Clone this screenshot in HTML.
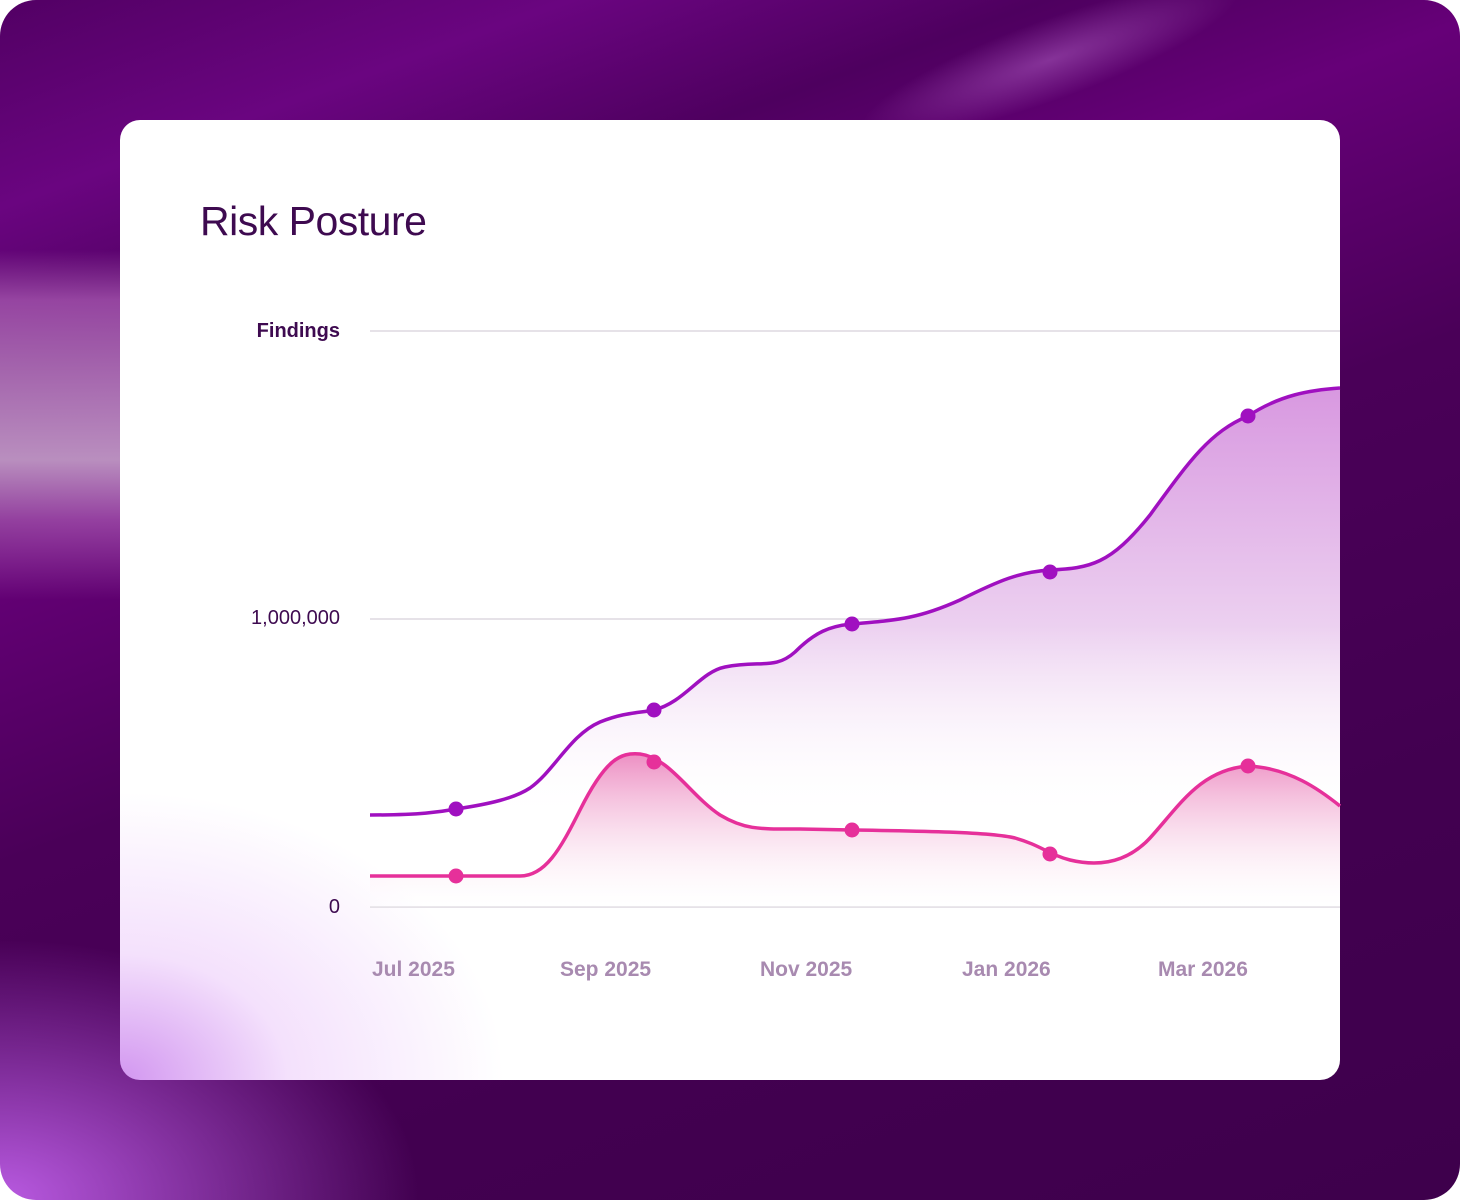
<!DOCTYPE html>
<html><head><meta charset="utf-8"><style>
html,body{margin:0;padding:0}
body{width:1460px;height:1200px;overflow:hidden;position:relative;font-family:"Liberation Sans",sans-serif;background:#fff}
.bg{position:absolute;inset:0;border-radius:36px;overflow:hidden;
background:
radial-gradient(ellipse 420px 260px at 0px 1200px,rgba(185,90,225,1),rgba(185,90,225,0) 100%),
linear-gradient(160deg,#520064 0%,#6a0580 12%,#4e005f 22%,#660078 32%,#4a0058 50%,#420050 75%,#3e004c 100%)}
.band{position:absolute;left:0;top:0;width:130px;height:1200px;border-radius:36px 0 0 36px;
background:linear-gradient(180deg,rgba(0,0,0,0) 250px,rgba(160,80,170,.85) 300px,rgba(190,150,195,.95) 460px,rgba(160,80,170,.8) 520px,rgba(0,0,0,0) 600px)}
.streak{position:absolute;left:700px;top:-60px;width:700px;height:240px;background:radial-gradient(ellipse 200px 40px at 50% 50%,rgba(180,100,200,.5),rgba(180,100,200,0));transform:rotate(-20deg)}
.card{position:absolute;left:120px;top:120px;width:1220px;height:960px;border-radius:20px;overflow:hidden;
background:
radial-gradient(ellipse 480px 360px at 0px 960px,rgba(210,150,240,1) 0%,rgba(235,200,250,.55) 35%,rgba(255,255,255,0) 80%),#fff}
.title{position:absolute;left:200px;top:198px;font-size:41px;color:#3e0a50;letter-spacing:-0.5px}
.yl{position:absolute;right:1120px;font-size:20px;color:#3e0a50;font-weight:bold}
.xl{position:absolute;top:958px;font-size:21px;color:#a88ab0;font-weight:bold}
</style></head><body>
<div class="bg"></div><div class="band"></div><div class="streak"></div>
<div class="card"></div>
<div class="title">Risk Posture</div>
<div class="yl" style="top:320px">Findings</div>
<div class="yl" style="top:607px;font-weight:normal">1,000,000</div>
<div class="yl" style="top:896px;font-weight:normal">0</div>
<div class="xl" style="left:372px">Jul 2025</div>
<div class="xl" style="left:560px">Sep 2025</div>
<div class="xl" style="left:760px">Nov 2025</div>
<div class="xl" style="left:962px">Jan 2026</div>
<div class="xl" style="left:1158px">Mar 2026</div>
<svg width="1460" height="1200" style="position:absolute;left:0;top:0">
<defs>
<linearGradient id="gp" x1="0" y1="388" x2="0" y2="820" gradientUnits="userSpaceOnUse"><stop offset="0" stop-color="#d898e0"/><stop offset=".55" stop-color="#ecd0f0"/><stop offset="1" stop-color="#ffffff" stop-opacity="0"/></linearGradient>
<linearGradient id="gk" x1="0" y1="750" x2="0" y2="905" gradientUnits="userSpaceOnUse"><stop offset="0" stop-color="#ec8ac0"/><stop offset="1" stop-color="#ffffff" stop-opacity=".2"/></linearGradient>
</defs>
<line x1="370" y1="331" x2="1340" y2="331" stroke="#e6e2e8" stroke-width="2"/>
<line x1="370" y1="619" x2="1340" y2="619" stroke="#e6e2e8" stroke-width="2"/>
<line x1="370" y1="907" x2="1340" y2="907" stroke="#e6e2e8" stroke-width="2"/>
<path d="M370 815 C420 815 440 812 456 809 C490 804 515 798 530 788 C555 770 570 735 600 722 C625 712 640 713 654 710 C685 702 700 672 725 667 C760 660 775 670 795 652 C815 632 830 626 852 624 C900 620 920 618 960 600 C1000 580 1020 572 1050 570 C1090 568 1110 565 1150 515 C1190 460 1210 432 1248 416 C1280 395 1310 390 1340 388 L1340 907 L370 907 Z" fill="url(#gp)"/>
<path d="M370 815 C420 815 440 812 456 809 C490 804 515 798 530 788 C555 770 570 735 600 722 C625 712 640 713 654 710 C685 702 700 672 725 667 C760 660 775 670 795 652 C815 632 830 626 852 624 C900 620 920 618 960 600 C1000 580 1020 572 1050 570 C1090 568 1110 565 1150 515 C1190 460 1210 432 1248 416 C1280 395 1310 390 1340 388" fill="none" stroke="#a010c0" stroke-width="3.5"/>
<path d="M370 876 L520 876 C545 876 560 850 580 810 C605 760 620 752 640 754 C670 758 690 795 720 815 C745 830 760 829 800 829 L852 830 C920 831 990 832 1015 838 C1040 845 1050 855 1070 860 C1095 866 1125 865 1150 838 C1180 805 1200 770 1248 766 C1290 768 1320 790 1340 806 L1340 907 L370 907 Z" fill="url(#gk)"/>
<path d="M370 876 L520 876 C545 876 560 850 580 810 C605 760 620 752 640 754 C670 758 690 795 720 815 C745 830 760 829 800 829 L852 830 C920 831 990 832 1015 838 C1040 845 1050 855 1070 860 C1095 866 1125 865 1150 838 C1180 805 1200 770 1248 766 C1290 768 1320 790 1340 806" fill="none" stroke="#e6309a" stroke-width="3.5"/>
<g fill="#a010c0"><circle cx="456" cy="809" r="7.5"/><circle cx="654" cy="710" r="7.5"/><circle cx="852" cy="624" r="7.5"/><circle cx="1050" cy="572" r="7.5"/><circle cx="1248" cy="416" r="7.5"/></g>
<g fill="#e6309a"><circle cx="456" cy="876" r="7.5"/><circle cx="654" cy="762" r="7.5"/><circle cx="852" cy="830" r="7.5"/><circle cx="1050" cy="854" r="7.5"/><circle cx="1248" cy="766" r="7.5"/></g>
</svg>
</body></html>
